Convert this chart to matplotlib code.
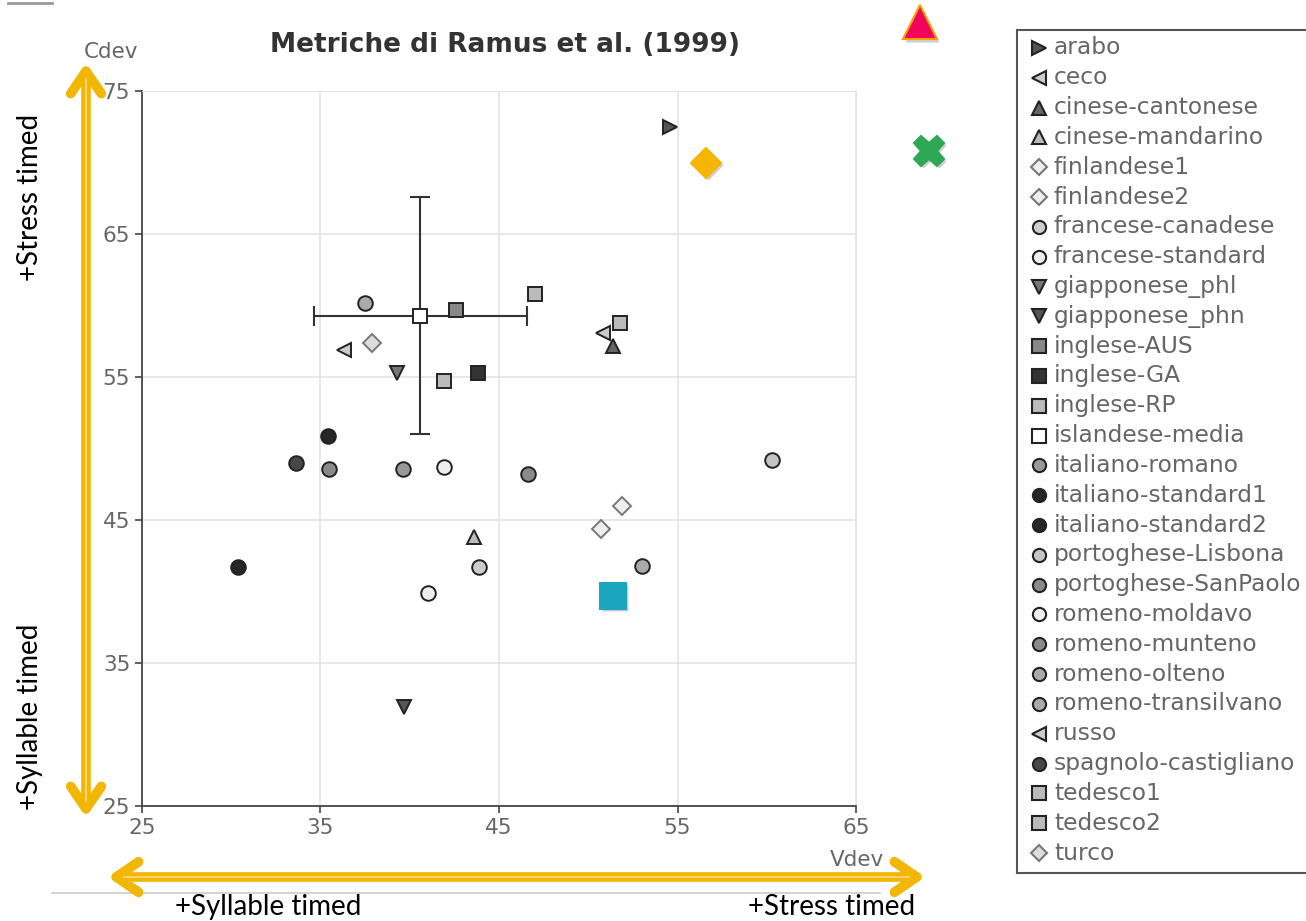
import matplotlib
matplotlib.use('Agg')
import matplotlib.pyplot as plt
from matplotlib.lines import Line2D

# languages (legend order) with Vdev, Cdev
languages = ['arabo', 'ceco', 'cinese-cantonese', 'cinese-mandarino',
             'finlandese1', 'finlandese2', 'francese-canadese',
             'francese-standard', 'giapponese_phl', 'giapponese_phn',
             'inglese-AUS', 'inglese-GA', 'inglese-RP', 'islandese-media',
             'italiano-romano', 'italiano-standard1', 'italiano-standard2',
             'portoghese-Lisbona', 'portoghese-SanPaolo', 'romeno-moldavo',
             'romeno-munteno', 'romeno-olteno', 'romeno-transilvano',
             'russo', 'spagnolo-castigliano', 'tedesco1', 'tedesco2', 'turco']
vdev = [54.6, 50.8, 51.4, 43.6, 50.7, 51.9, 43.9, 41.9, 39.3, 39.7,
        42.6, 43.8, 41.9, 40.6, 39.6, 35.4, 30.4, 60.3, 46.6, 41.0,
        35.5, 37.5, 53.0, 36.3, 33.6, 47.0, 51.8, 37.9]
cdev = [72.5, 58.1, 57.2, 43.8, 44.4, 46.0, 41.7, 48.7, 55.3, 31.9,
        59.7, 55.3, 54.7, 59.3, 48.6, 50.9, 41.7, 49.2, 48.2, 39.9,
        48.6, 60.2, 41.8, 56.9, 49.0, 60.8, 58.8, 57.4]
markers = ['>', '<', '^', '^', 'D', 'D', 'o', 'o', 'v', 'v',
           's', 's', 's', 's', 'o', 'o', 'o', 'o', 'o', 'o',
           'o', 'o', 'o', '<', 'o', 's', 's', 'D']
fills = ['#555555', '#cccccc', '#666666', '#bbbbbb', '#eeeeee', '#eeeeee',
         '#cccccc', '#eeeeee', '#777777', '#555555', '#888888', '#333333',
         '#bbbbbb', '#ffffff', '#999999', '#262626', '#262626', '#c4c4c4',
         '#8a8a8a', '#eeeeee', '#8a8a8a', '#aaaaaa', '#aaaaaa', '#cccccc',
         '#474747', '#bbbbbb', '#bbbbbb', '#dddddd']

# islandese-media error bars
isl_xerr = 5.95
isl_yerr = 8.3

# highlighted extra points
extra_x = [56.6, 51.4, 68.6, 69.1]
extra_y = [70.0, 39.7, 79.8, 70.8]
extra_marker = ['D', 's', '^', 'X']
extra_color = ['#F5B400', '#1BA6BF', '#F0055A', '#2EA855']
extra_edge = ['#F5B400', '#1BA6BF', '#F5A000', '#2EA855']
extra_size = [15, 19, 24, 22]

fig = plt.figure(figsize=(13.06, 9.21), dpi=100)
W, H = 1306, 921
ax = fig.add_axes([142 / W, 1 - 806 / H, (856 - 142) / W, (806 - 91) / H])

ax.set_xlim(25, 65)
ax.set_ylim(25, 75)
ax.set_xticks([25, 35, 45, 55, 65])
ax.set_yticks([25, 35, 45, 55, 65, 75])
ax.grid(True, color='#e4e4e4', lw=1.2)
ax.set_axisbelow(True)
for s in ['top', 'right']:
    ax.spines[s].set_color('#e4e4e4')
for s in ['left', 'bottom']:
    ax.spines[s].set_color('#444444')
    ax.spines[s].set_linewidth(1.3)
ax.tick_params(colors='#444444', labelcolor='#666666', labelsize=15.5,
               length=5, width=1.2)

iso = languages.index('islandese-media')
ax.errorbar(vdev[iso], cdev[iso], xerr=isl_xerr, yerr=isl_yerr, fmt='none',
            ecolor='#333333', elinewidth=1.5, capsize=7, capthick=1.5, zorder=2)

for x, y, m, c in zip(vdev, cdev, markers, fills):
    edge = '#777777' if m == 'D' else '#222222'
    ms = 9 if m == 'D' else 10.5
    ax.plot(x, y, marker=m, ms=ms, mfc=c, mec=edge, mew=1.4, ls='none', zorder=3)

for x, y, m, c, e, s in zip(extra_x, extra_y, extra_marker, extra_color, extra_edge, extra_size):
    ax.plot(x + 0.1, y - 0.15, marker=m, ms=s, color='#00000030', mec='none',
            ls='none', clip_on=False, zorder=4)
    ax.plot(x, y, marker=m, ms=s, mfc=c, mec=e, mew=1.5, ls='none',
            clip_on=False, zorder=5)

fig.text(505 / W, 1 - 45 / H, 'Metriche di Ramus et al. (1999)', ha='center',
         va='center', fontsize=19, fontweight='bold', color='#333333')
fig.text(111 / W, 1 - 52 / H, 'Cdev', ha='center', va='center', fontsize=15.5,
         color='#666666')
fig.text(857 / W, 1 - 860 / H, 'Vdev', ha='center', va='center', fontsize=15.5,
         color='#666666')

# golden arrows
gold = '#F2B705'
for p0, p1 in [((86, 101), (86, 861)), ((105, 44), (928, 44))]:
    fig.add_artist(matplotlib.patches.FancyArrowPatch(
        p0, p1, transform=None, arrowstyle='<->,head_length=16,head_width=11',
        color=gold, lw=7, capstyle='round', joinstyle='round', zorder=6))
fig.add_artist(Line2D([86 / W, 86 / W], [120 / H, 842 / H], color='#F7DC85',
                      lw=1.2, zorder=7))
fig.add_artist(Line2D([124 / W, 909 / W], [44 / H, 44 / H], color='#F7DC85',
                      lw=1.2, zorder=7))
fig.add_artist(Line2D([52 / W, 880 / W], [28 / H, 28 / H], color='#cccccc', lw=1.2))
fig.add_artist(Line2D([8 / W, 52 / W], [1 - 3 / H, 1 - 3 / H], color='#999999', lw=2))

tfont = dict(fontsize=20, color='black', family='Lato')
fig.text(30 / W, 1 - 197 / H, '+Stress timed', rotation=90, ha='center', va='center', **tfont)
fig.text(30 / W, 1 - 717 / H, '+Syllable timed', rotation=90, ha='center', va='center', **tfont)
fig.text(268 / W, 1 - 907 / H, '+Syllable timed', ha='center', va='center', **tfont)
fig.text(832 / W, 1 - 907 / H, '+Stress timed', ha='center', va='center', **tfont)

# legend panel
lax = fig.add_axes([1017 / W, 1 - 873 / H, 320 / W, (873 - 30) / H])
lax.set_xlim(1017, 1337)
lax.set_ylim(873, 30)
lax.set_xticks([])
lax.set_yticks([])
for s in lax.spines.values():
    s.set_color('#555555')
    s.set_linewidth(1.5)
for i, (name, m, c) in enumerate(zip(languages, markers, fills)):
    yy = 48 + i * (853 - 48) / (len(languages) - 1)
    edge = '#777777' if m == 'D' else '#222222'
    lax.plot(1039, yy, marker=m, ms=9.5 if m != 'D' else 8, mfc=c, mec=edge,
             mew=1.5, ls='none')
    lax.text(1054, yy, name, ha='left', va='center', fontsize=16.8, color='#666666')

fig.savefig('out.png', dpi=100)
